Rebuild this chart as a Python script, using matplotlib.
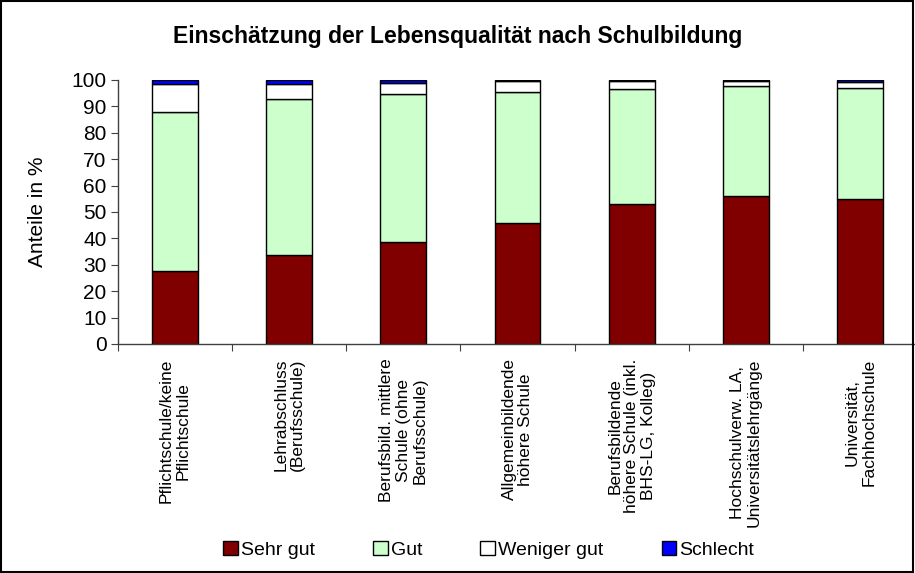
import matplotlib
matplotlib.use("Agg")
import matplotlib.pyplot as plt
from matplotlib.patches import Rectangle
import numpy as np

plt.rcParams['font.family'] = ['Liberation Sans', 'DejaVu Sans']

categories = [
    "Pflichtschule/keine\nPflichtschule",
    "Lehrabschluss\n(Berufsschule)",
    "Berufsbild. mittlere\nSchule (ohne\nBerufsschule)",
    "Allgemeinbildende\nhöhere Schule",
    "Berufsbildende\nhöhere Schule (inkl.\nBHS-LG, Kolleg)",
    "Hochschulverw. LA,\nUniversitätslehrgänge",
    "Universität,\nFachhochschule",
]
sehr_gut = [27.5, 33.8, 38.5, 46.0, 53.0, 56.0, 55.0]
gut = [60.2, 59.0, 56.1, 49.5, 43.6, 41.8, 41.9]
weniger_gut = [10.7, 5.7, 4.3, 4.2, 2.9, 2.0, 2.5]
schlecht = [1.6, 1.5, 1.1, 0.3, 0.5, 0.2, 0.6]

series = [("Sehr gut", sehr_gut, "#800000"),
          ("Gut", gut, "#CCFFCC"),
          ("Weniger gut", weniger_gut, "#FFFFFF"),
          ("Schlecht", schlecht, "#0000FF")]

fig = plt.figure(figsize=(9.15, 5.73), dpi=100)
ax = fig.add_axes([0.1286, 0.3997, 0.874, 0.4607])

x = np.arange(len(categories))
bottom = np.zeros(len(categories))
handles = []
for name, vals, col in series:
    vals = np.array(vals)
    b = ax.bar(x, vals, 0.4, bottom=bottom, color=col, edgecolor="black",
               linewidth=1.0, label=name)
    handles.append(b)
    bottom += vals

ax.set_xlim(-0.5, len(categories) - 0.5)
ax.set_ylim(0, 100)
ax.set_yticks(np.arange(0, 101, 10))
ax.tick_params(axis='y', labelsize=15, length=5, direction='out', color='#404040', pad=3)
ax.set_xticks(np.arange(len(categories) + 1) - 0.5)
ax.set_xticklabels([])
ax.tick_params(axis='x', length=5, direction='out', color='#404040')
for s in ['top', 'right']:
    ax.spines[s].set_visible(False)
for s in ['left', 'bottom']:
    ax.spines[s].set_color('#404040')
    ax.spines[s].set_linewidth(1.0)

for i, lab in enumerate(categories):
    ax.text(i, -5.5, lab, rotation=90, ha='center', va='top', fontsize=12.5,
            multialignment='center', linespacing=1.15, transform=ax.transData)

ax.set_ylabel("Anteile in %", fontsize=15)
ax.yaxis.set_label_coords(-0.088, 0.5)

fig.text(0.5, 0.937, "Einschätzung der Lebensqualität nach Schulbildung",
         ha='center', va='center', fontsize=16.5, fontweight='bold')

fig.legend(handles=handles, labels=[s[0] for s in series], loc='center',
           bbox_to_anchor=(0.534, 0.04), ncol=4, frameon=False, fontsize=14,
           handlelength=0.75, handleheight=0.75, handletextpad=0.15,
           columnspacing=3.0)

fig.add_artist(Rectangle((0.001, 0.001), 0.997, 0.997, transform=fig.transFigure,
                         fill=False, edgecolor='black', linewidth=1.5))

fig.savefig("out.png", dpi=100)
